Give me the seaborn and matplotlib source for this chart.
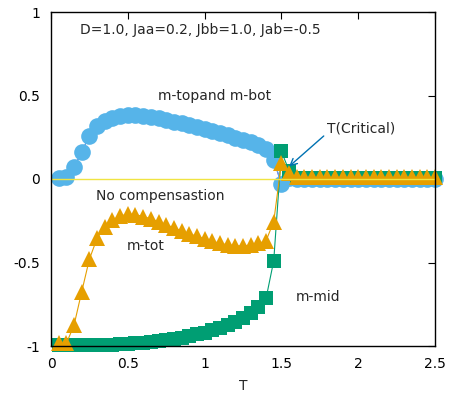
import matplotlib
matplotlib.use("Agg")
import matplotlib.pyplot as plt
import seaborn as sns
import pandas as pd

# Temperature grid
T = [0.05, 0.10, 0.15, 0.20, 0.25, 0.30, 0.35, 0.40, 0.45, 0.50,
     0.55, 0.60, 0.65, 0.70, 0.75, 0.80, 0.85, 0.90, 0.95, 1.00,
     1.05, 1.10, 1.15, 1.20, 1.25, 1.30, 1.35, 1.40, 1.45, 1.50,
     1.55, 1.60, 1.65, 1.70, 1.75, 1.80, 1.85, 1.90, 1.95, 2.00,
     2.05, 2.10, 2.15, 2.20, 2.25, 2.30, 2.35, 2.40, 2.45, 2.50]

# Sublattice magnetisations (top and bottom layers coincide)
m_top = [0.005, 0.012, 0.070, 0.160, 0.260, 0.315, 0.350, 0.368, 0.380, 0.385,
         0.384, 0.379, 0.372, 0.364, 0.354, 0.343, 0.333, 0.322, 0.311, 0.300,
         0.288, 0.276, 0.262, 0.248, 0.234, 0.220, 0.203, 0.180, 0.115, -0.030,
         0.005, 0.002, 0.002, 0.002, 0.002, 0.002, 0.002, 0.002, 0.002, 0.002,
         0.002, 0.002, 0.002, 0.002, 0.002, 0.002, 0.002, 0.002, 0.002, 0.002]
m_bot = list(m_top)

m_mid = [-0.995, -0.995, -0.995, -0.995, -0.995, -0.995, -0.994, -0.992, -0.990, -0.987,
         -0.984, -0.980, -0.976, -0.971, -0.965, -0.958, -0.950, -0.941, -0.931, -0.920,
         -0.907, -0.892, -0.875, -0.855, -0.832, -0.805, -0.768, -0.715, -0.490, 0.165,
         0.050, 0.005, 0.005, 0.005, 0.005, 0.005, 0.005, 0.005, 0.005, 0.005,
         0.005, 0.005, 0.005, 0.005, 0.005, 0.005, 0.005, 0.005, 0.005, 0.005]

m_tot = [-0.985, -0.985, -0.875, -0.675, -0.480, -0.355, -0.285, -0.245, -0.222, -0.210,
         -0.213, -0.225, -0.238, -0.255, -0.273, -0.293, -0.310, -0.328, -0.343, -0.358,
         -0.373, -0.385, -0.394, -0.400, -0.400, -0.396, -0.386, -0.370, -0.255, 0.095,
         0.035, 0.010, 0.010, 0.010, 0.010, 0.010, 0.010, 0.010, 0.010, 0.010,
         0.010, 0.010, 0.010, 0.010, 0.010, 0.010, 0.010, 0.010, 0.010, 0.010]

x_ticks = [0, 0.5, 1, 1.5, 2, 2.5]
x_tick_labels = ["0", "0.5", "1", "1.5", "2", "2.5"]
y_ticks = [-1, -0.5, 0, 0.5, 1]
y_tick_labels = ["-1", "-0.5", "0", "0.5", "1"]

df = pd.DataFrame({"T": T, "m_top": m_top, "m_bot": m_bot,
                   "m_mid": m_mid, "m_tot": m_tot})

sns.set_style("white")
plt.rcParams["font.family"] = ["DejaVu Sans"]
plt.rcParams["axes.unicode_minus"] = False

fig = plt.figure(figsize=(4.51, 4.01), dpi=100)
ax = fig.add_axes([51 / 451, 1 - 346 / 401, 384 / 451, 334 / 401])

# bottom layer: purple crosses, mostly hidden beneath the top-layer circles
sns.lineplot(data=df, x="T", y="m_bot", ax=ax, color="#9400d3", linewidth=0.8,
             marker="x", markersize=9.2, markeredgewidth=1.0, clip_on=False, zorder=2)
sns.lineplot(data=df, x="T", y="m_top", ax=ax, color="#56b4e9", linewidth=0.8,
             marker="o", markersize=12.0, markeredgewidth=0, clip_on=False, zorder=3)
sns.lineplot(data=df, x="T", y="m_mid", ax=ax, color="#009e73", linewidth=0.8,
             marker="s", markersize=10.0, markeredgewidth=0, clip_on=False, zorder=4)
sns.lineplot(data=df, x="T", y="m_tot", ax=ax, color="#e69f00", linewidth=0.8,
             marker="^", markersize=11.0, markeredgewidth=0, clip_on=False, zorder=5)

# zero line (no compensation)
ax.axhline(0, color="#f0e442", linewidth=1.0, zorder=6)

ax.set_xlim(0, 2.5)
ax.set_ylim(-1, 1)
ax.set_xticks(x_ticks)
ax.set_xticklabels(x_tick_labels)
ax.set_yticks(y_ticks)
ax.set_yticklabels(y_tick_labels)
ax.set_xlabel("T", fontsize=10, labelpad=6)
ax.set_ylabel("")

ax.tick_params(direction="in", length=5, width=0.8, top=True, right=True,
               labelsize=10, pad=8, colors="black")
for s in ax.spines.values():
    s.set_visible(True)
    s.set_color("black")
    s.set_linewidth(1.0)
    s.set_zorder(7)

fs = 10
ax.text(0.19, 0.895, "D=1.0, Jaa=0.2, Jbb=1.0, Jab=-0.5", fontsize=fs, va="center", ha="left")
ax.text(0.697, 0.497, "m-topand m-bot", fontsize=fs, va="center", ha="left")
ax.text(0.293, -0.102, "No compensastion", fontsize=fs, va="center", ha="left")
ax.text(0.495, -0.401, "m-tot", fontsize=fs, va="center", ha="left")
ax.text(1.595, -0.707, "m-mid", fontsize=fs, va="center", ha="left")
ax.annotate("T(Critical)", xy=(1.55, 0.075), xytext=(1.797, 0.30),
            fontsize=fs, va="center", ha="left",
            arrowprops=dict(arrowstyle="->", color="#0072b2", lw=1.0,
                            shrinkA=0, shrinkB=0, mutation_scale=12,
                            relpos=(0.0, 0.2)),
            zorder=8)

fig.savefig("out.png", dpi=100, facecolor="white")
